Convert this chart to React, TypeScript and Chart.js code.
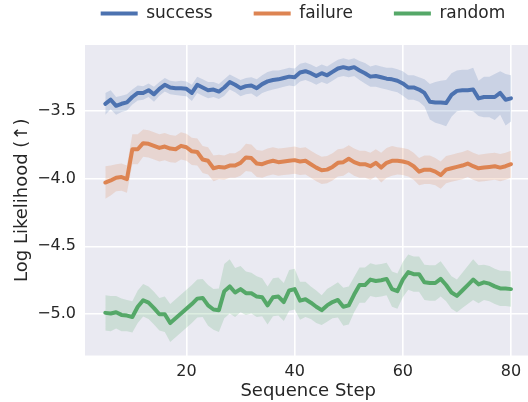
import React, { useEffect, useRef } from "react";
import { Chart, registerables } from "chart.js";

Chart.register(...registerables);

const steps = [
  5, 6, 7, 8, 9, 10, 11, 12, 13, 14, 15, 16, 17, 18, 19, 20, 21, 22, 23, 24,
  25, 26, 27, 28, 29, 30, 31, 32, 33, 34, 35, 36, 37, 38, 39, 40, 41, 42, 43, 44,
  45, 46, 47, 48, 49, 50, 51, 52, 53, 54, 55, 56, 57, 58, 59, 60, 61, 62, 63, 64,
  65, 66, 67, 68, 69, 70, 71, 72, 73, 74, 75, 76, 77, 78, 79, 80,
];

const successMean = [
  -3.45, -3.42, -3.465, -3.45, -3.44, -3.4, -3.37, -3.37, -3.35, -3.38,
  -3.34, -3.31, -3.33, -3.335, -3.335, -3.34, -3.37, -3.31, -3.33, -3.35,
  -3.345, -3.36, -3.33, -3.29, -3.31, -3.335, -3.32, -3.315, -3.335, -3.305,
  -3.285, -3.275, -3.27, -3.26, -3.25, -3.255, -3.22, -3.21, -3.225, -3.245,
  -3.225, -3.24, -3.215, -3.19, -3.18, -3.19, -3.18, -3.205, -3.225, -3.25,
  -3.245, -3.255, -3.265, -3.27, -3.28, -3.3, -3.33, -3.33, -3.345, -3.37,
  -3.435, -3.44, -3.44, -3.445, -3.385, -3.355, -3.35, -3.35, -3.345, -3.41,
  -3.4, -3.4, -3.4, -3.37, -3.42, -3.41,
];
const successErr = [
  0.08, 0.07, 0.065, 0.06, 0.06, 0.055, 0.055, 0.05, 0.05, 0.055,
  0.05, 0.05, 0.05, 0.05, 0.055, 0.055, 0.06, 0.06, 0.06, 0.06,
  0.055, 0.055, 0.06, 0.055, 0.055, 0.06, 0.06, 0.06, 0.065, 0.065,
  0.07, 0.07, 0.065, 0.065, 0.065, 0.065, 0.065, 0.065, 0.065, 0.065,
  0.065, 0.065, 0.065, 0.065, 0.065, 0.065, 0.065, 0.07, 0.075, 0.075,
  0.08, 0.08, 0.08, 0.085, 0.085, 0.09, 0.09, 0.09, 0.09, 0.1,
  0.13, 0.15, 0.16, 0.17, 0.16, 0.15, 0.15, 0.15, 0.16, 0.13,
  0.15, 0.15, 0.17, 0.16, 0.19, 0.17,
];

const failureMean = [
  -4.03, -4.015, -3.995, -3.99, -4.005, -3.785, -3.785, -3.74, -3.745, -3.76,
  -3.775, -3.765, -3.78, -3.785, -3.76, -3.77, -3.8, -3.805, -3.86, -3.87,
  -3.925, -3.915, -3.92, -3.905, -3.905, -3.885, -3.845, -3.85, -3.89, -3.895,
  -3.88, -3.87, -3.88, -3.875, -3.87, -3.865, -3.875, -3.87, -3.895, -3.92,
  -3.94, -3.935, -3.915, -3.885, -3.88, -3.855, -3.88, -3.895, -3.895, -3.91,
  -3.885, -3.92, -3.885, -3.87, -3.87, -3.875, -3.885, -3.91, -3.95, -3.935,
  -3.935, -3.95, -3.975, -3.935, -3.925, -3.915, -3.905, -3.89, -3.91, -3.925,
  -3.92, -3.915, -3.91, -3.92, -3.91, -3.895,
];
const failureErr = [
  0.12, 0.11, 0.1, 0.1, 0.1, 0.11, 0.11, 0.1, 0.1, 0.1,
  0.1, 0.1, 0.1, 0.1, 0.1, 0.1, 0.1, 0.1, 0.1, 0.1,
  0.095, 0.09, 0.09, 0.09, 0.09, 0.095, 0.1, 0.1, 0.1, 0.1,
  0.1, 0.1, 0.1, 0.1, 0.1, 0.1, 0.1, 0.1, 0.1, 0.1,
  0.1, 0.1, 0.1, 0.1, 0.1, 0.1, 0.1, 0.1, 0.1, 0.1,
  0.1, 0.11, 0.11, 0.11, 0.1, 0.1, 0.1, 0.1, 0.1, 0.105,
  0.105, 0.1, 0.1, 0.1, 0.1, 0.1, 0.1, 0.1, 0.1, 0.1,
  0.1, 0.1, 0.1, 0.1, 0.1, 0.1,
];

const randomMean = [
  -4.99, -4.995, -4.985, -5.005, -5.01, -5.02, -4.945, -4.897, -4.915, -4.955,
  -5.0, -5.0, -5.065, -5.03, -4.995, -4.96, -4.925, -4.885, -4.88, -4.935,
  -4.965, -4.97, -4.83, -4.795, -4.84, -4.815, -4.845, -4.845, -4.87, -4.875,
  -4.935, -4.875, -4.87, -4.91, -4.825, -4.815, -4.9, -4.89, -4.915, -4.945,
  -4.97, -4.935, -4.91, -4.895, -4.945, -4.935, -4.855, -4.785, -4.785, -4.745,
  -4.755, -4.75, -4.74, -4.815, -4.83, -4.745, -4.69, -4.705, -4.705, -4.765,
  -4.77, -4.77, -4.74, -4.785, -4.84, -4.865, -4.825, -4.785, -4.745, -4.78,
  -4.765, -4.775, -4.795, -4.81, -4.81, -4.815,
];
const randomErr = [
  0.13, 0.13, 0.12, 0.12, 0.115, 0.115, 0.12, 0.12, 0.12, 0.12,
  0.12, 0.13, 0.14, 0.14, 0.14, 0.14, 0.14, 0.14, 0.14, 0.15,
  0.15, 0.16, 0.2, 0.2, 0.18, 0.17, 0.16, 0.15, 0.15, 0.14,
  0.14, 0.14, 0.14, 0.14, 0.15, 0.15, 0.14, 0.13, 0.12, 0.12,
  0.11, 0.12, 0.12, 0.13, 0.14, 0.14, 0.13, 0.13, 0.13, 0.12,
  0.12, 0.12, 0.12, 0.13, 0.13, 0.13, 0.13, 0.13, 0.13, 0.13,
  0.13, 0.13, 0.13, 0.12, 0.12, 0.12, 0.13, 0.14, 0.15, 0.14,
  0.13, 0.13, 0.13, 0.13, 0.13, 0.13,
];

const seriesLabels = ["success", "failure", "random"];
const xTicks = [20, 40, 60, 80];
const yTicks = [-5.0, -4.5, -4.0, -3.5];

const LINE_COLORS = ["#4C72B0", "#DD8452", "#55A868"];
const BAND_COLORS = [
  "rgba(76,114,176,0.2)",
  "rgba(221,132,82,0.2)",
  "rgba(85,168,104,0.2)",
];
const TEXT = "#262626";
const FONT = "'DejaVu Sans', sans-serif";

const fmtY = (v: number) =>
  (v < 0 ? "\u2212" : "") + Math.abs(v).toFixed(1);

export default function App() {
  const ref = useRef<HTMLCanvasElement>(null);

  useEffect(() => {
    if (!ref.current) return;
    const means = [successMean, failureMean, randomMean];
    const errs = [successErr, failureErr, randomErr];

    const lineSets: any[] = means.map((m, s) => ({
      label: seriesLabels[s],
      data: steps.map((x, i) => ({ x, y: m[i] })),
      borderColor: LINE_COLORS[s],
      backgroundColor: LINE_COLORS[s],
      borderWidth: 4,
      pointRadius: 0,
      fill: false,
      order: 0,
      borderJoinStyle: "round",
      borderCapStyle: "round",
    }));
    const bandSets: any[] = [];
    means.forEach((m, s) => {
      bandSets.push({
        label: "",
        data: steps.map((x, i) => ({ x, y: m[i] + errs[s][i] })),
        borderColor: "transparent",
        backgroundColor: BAND_COLORS[s],
        borderWidth: 0,
        pointRadius: 0,
        fill: false,
        order: 1,
      });
      bandSets.push({
        label: "",
        data: steps.map((x, i) => ({ x, y: m[i] - errs[s][i] })),
        borderColor: "transparent",
        backgroundColor: BAND_COLORS[s],
        borderWidth: 0,
        pointRadius: 0,
        fill: "-1",
        order: 1,
      });
    });

    const bgPlugin = {
      id: "bgPlot",
      beforeDraw(chart: any) {
        const { ctx, chartArea: a } = chart;
        ctx.save();
        ctx.fillStyle = "#ffffff";
        ctx.fillRect(0, 0, chart.width, chart.height);
        ctx.fillStyle = "#EAEAF2";
        ctx.fillRect(a.left, a.top, a.right - a.left, a.bottom - a.top);
        ctx.restore();
      },
    };
    const legendPlace = {
      id: "legendPlace",
      afterLayout(chart: any) {
        const lg = chart.legend;
        if (!lg) return;
        lg.left = 30.5;
        lg.right = 575.5;
        lg.top = -36;
        lg.bottom = 45;
        lg.width = lg.right - lg.left;
        lg.height = lg.bottom - lg.top;
      },
    };

    const chart = new Chart(ref.current, {
      type: "line",
      data: { datasets: [...lineSets, ...bandSets] },
      options: {
        animation: false,
        responsive: false,
        devicePixelRatio: 1,
        events: [],
        layout: { padding: { left: 0, right: 13.7, top: 0, bottom: 0 } },
        plugins: {
          tooltip: { enabled: false },
          legend: {
            display: true,
            position: "top",
            fullSize: true,
            maxHeight: 45,
            labels: {
              boxWidth: 37,
              boxHeight: 4,
              padding: 41,
              color: TEXT,
              font: { family: FONT, size: 17 },
              generateLabels: (c: any) =>
                (Chart.defaults.plugins.legend.labels as any)
                  .generateLabels(c)
                  .filter((it: any) => it.datasetIndex < 3)
                  .map((it: any) => ({ ...it, lineWidth: 0 })),
            },
          },
        },
        scales: {
          x: {
            type: "linear",
            min: 1.25,
            max: 83.75,
            bounds: "data",
            afterBuildTicks: (s: any) => {
              s.ticks = xTicks.map((v) => ({ value: v }));
            },
            afterFit: (s: any) => {
              s.height = 46.5;
            },
            grid: { color: "#ffffff", lineWidth: 1.6, drawTicks: false },
            border: { display: false },
            ticks: {
              padding: 7,
              color: TEXT,
              font: { family: FONT, size: 16 },
              maxRotation: 0,
              autoSkip: false,
              callback: (v: any) => String(v),
            },
            title: {
              display: true,
              text: "Sequence Step",
              color: TEXT,
              font: { family: FONT, size: 18 },
              padding: { top: 0, bottom: 0 },
            },
          },
          y: {
            type: "linear",
            min: -5.304,
            max: -3.017,
            bounds: "data",
            afterBuildTicks: (s: any) => {
              s.ticks = yTicks.map((v) => ({ value: v }));
            },
            afterFit: (s: any) => {
              s.width = 85;
            },
            grid: { color: "#ffffff", lineWidth: 1.6, drawTicks: false },
            border: { display: false },
            ticks: {
              padding: 9,
              color: TEXT,
              font: { family: FONT, size: 16 },
              autoSkip: false,
              callback: (v: any) => fmtY(Number(v)),
            },
            title: {
              display: true,
              text: "Log Likelihood (\u2191)",
              color: TEXT,
              font: { family: FONT, size: 18 },
              padding: { top: 12, bottom: 0 },
            },
          },
        },
      } as any,
      plugins: [bgPlugin, legendPlace],
    });
    return () => chart.destroy();
  }, []);

  return (
    <div
      style={{
        position: "fixed",
        left: 0,
        top: 0,
        width: 528,
        height: 402,
        overflow: "hidden",
        background: "#ffffff",
      }}
    >
      <canvas
        ref={ref}
        width={545}
        height={402}
        style={{ display: "block", width: 545, height: 402 }}
      />
    </div>
  );
}
